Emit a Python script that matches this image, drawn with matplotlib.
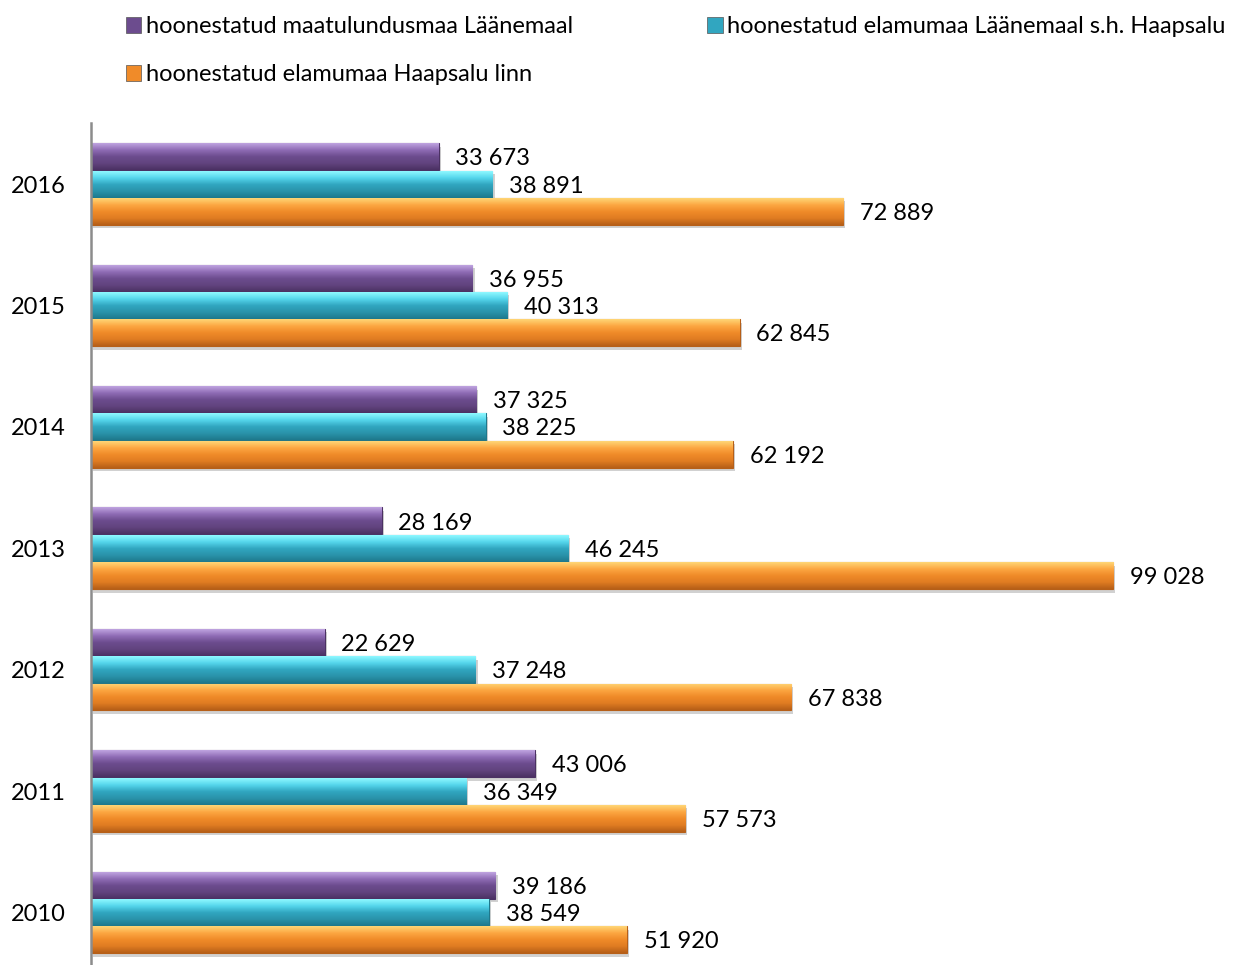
import matplotlib
matplotlib.use("Agg")
import matplotlib.pyplot as plt
import matplotlib.patheffects as pe
from matplotlib.colors import LinearSegmentedColormap
from matplotlib.patches import Patch
import numpy as np

years = ["2010", "2011", "2012", "2013", "2014", "2015", "2016"]
series_names = [
    "hoonestatud maatulundusmaa Läänemaal",
    "hoonestatud elamumaa Läänemaal s.h. Haapsalu",
    "hoonestatud elamumaa Haapsalu linn",
]
maatulundus = [39186, 43006, 22629, 28169, 37325, 36955, 33673]
elamu_laane = [38549, 36349, 37248, 46245, 38225, 40313, 38891]
elamu_haapsalu = [51920, 57573, 67838, 99028, 62192, 62845, 72889]

series_values = [maatulundus, elamu_laane, elamu_haapsalu]
gradients = [
    ["#bfa3e0", "#8f6cb5", "#6c4c8e", "#62447f", "#4b3163"],
    ["#8ff8ff", "#55d6ec", "#31a6c0", "#2a93aa", "#1e788c"],
    ["#ffd676", "#fca742", "#f08b29", "#e07c22", "#b65f18"],
]
legend_colors = ["#6c4c8e", "#31a6c0", "#f08b29"]

plt.rcParams["font.family"] = ["Lato", "DejaVu Sans"]
FS = 17

fig = plt.figure(figsize=(12.42, 9.65), dpi=100)
ax = fig.add_axes([0.0733, -0.0085, 0.9141, 0.8807])

y = np.arange(len(years))
bh = 0.222
offsets = [0.225, 0.0, -0.225]

for vals, off, grad in zip(series_values, offsets, gradients):
    cmap = LinearSegmentedColormap.from_list("g", grad)
    bars = ax.barh(y + off, vals, height=bh, color=grad[2], edgecolor=grad[4],
                   linewidth=0.8, zorder=2)
    for b in bars:
        b.set_path_effects([pe.SimplePatchShadow(offset=(1.5, -2.5), alpha=0.18,
                                                 shadow_rgbFace="black"),
                            pe.Normal()])
        x0, y0 = b.get_x(), b.get_y()
        w, h = b.get_width(), b.get_height()
        grad_img = np.linspace(0, 1, 64).reshape(-1, 1)
        im = ax.imshow(grad_img, extent=(x0, x0 + w, y0, y0 + h), origin="upper",
                       cmap=cmap, aspect="auto", zorder=3, interpolation="bilinear")
        im.set_clip_path(b)
    for b, v in zip(bars, vals):
        ax.annotate(f"{v:,}".replace(",", " "),
                    xy=(b.get_width(), b.get_y() + b.get_height() / 2),
                    xytext=(12, -1.5), textcoords="offset points",
                    va="center", ha="left", fontsize=FS, color="black", zorder=5)

ax.set_xlim(0, 110000)
ax.set_ylim(-0.5, 6.5)
ax.set_yticks(y)
ax.set_yticklabels(years, fontsize=FS)
ax.tick_params(axis="y", length=0, pad=18)
ax.set_xticks([])
for s in ["top", "right", "bottom"]:
    ax.spines[s].set_visible(False)
ax.spines["left"].set_color("#8c8c8c")
ax.spines["left"].set_linewidth(1.8)
ax.spines["left"].set_zorder(6)

handles = [Patch(facecolor=c, edgecolor="#555555", linewidth=0.5) for c in legend_colors]
order = [0, 2, 1]
leg = fig.legend([handles[i] for i in order], [series_names[i] for i in order],
                 loc="upper left", bbox_to_anchor=(0.084, 1.005), ncol=2,
                 frameon=False, fontsize=FS, handlelength=0.65, handleheight=0.65,
                 handletextpad=0.2, columnspacing=5.7, labelspacing=1.13)

fig.savefig("out.png", dpi=100)
